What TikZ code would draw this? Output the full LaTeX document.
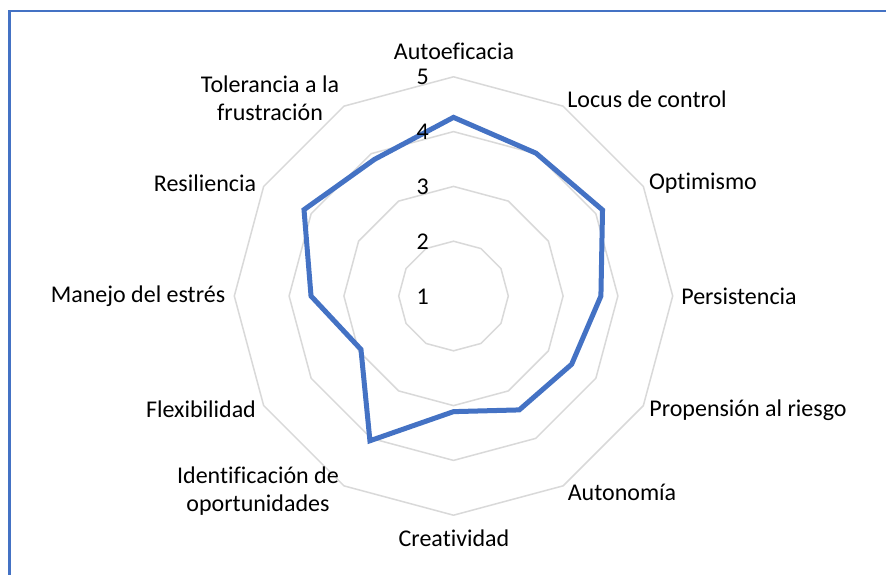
\documentclass[tikz,border=0pt]{standalone}
\usepackage{fontspec}
\setmainfont{Carlito}[Ligatures=NoCommon]
\definecolor{gridgray}{HTML}{D9D9D9}
\definecolor{serblue}{HTML}{4472C4}
\begin{document}
\begin{tikzpicture}[x=1pt,y=-1pt,
  gridring/.style={draw=gridgray, line width=1.5pt, line join=miter},
  series/.style={draw=serblue, line width=5pt, line join=miter},
  frameline/.style={draw=serblue, line width=2.2pt},
  axlabel/.style={font=\fontsize{24}{28}\selectfont, inner sep=0pt, align=center},
  ticklabel/.style={font=\fontsize{24}{28}\selectfont, inner sep=0pt, anchor=east}]
\path[use as bounding box, fill=white] (0,0) rectangle (886,574);
% frame
\coordinate (fbl) at (9.5,576);
\coordinate (ftl) at (9.5,11);
\coordinate (ftr) at (888,11);
\draw[frameline] (fbl) -- (ftl) -- (ftr);
\begin{scope}[shift={(453.5,296)}]
  \foreach \v in {2,...,5}{
    \pgfmathsetmacro{\rr}{(\v-1)*54.8}
    \draw[gridring] (-90:\rr) \foreach \k in {1,...,11}{ -- (30*\k-90:\rr)} -- cycle;
  }
  \foreach \k/\v in {0/4.26,1/4.01,2/4.14,3/3.69,4/3.49,5/3.4,6/3.11,7/4.05,8/2.95,9/3.6,10/4.15,11/3.88}{
    \coordinate (p\k) at (30*\k-90:{(\v-1)*54.8});
  }
  \draw[series] (p0) -- (p1) -- (p2) -- (p3) -- (p4) -- (p5) -- (p6) -- (p7) -- (p8) -- (p9) -- (p10) -- (p11) -- cycle;
\end{scope}
% tick labels
\node[ticklabel] (t1) at (429,297) {1};
\node[ticklabel] (t2) at (429,242) {2};
\node[ticklabel] (t3) at (429,187) {3};
\node[ticklabel] (t4) at (429,132) {4};
\node[ticklabel] (t5) at (429,77) {5};
% axis labels
\node[axlabel] (l0) at (454,51) {Autoeficacia};
\node[axlabel] (l1) at (647,99) {Locus de control};
\node[axlabel] (l2) at (703,183) {Optimismo};
\node[axlabel] (l3) at (739,296) {Persistencia};
\node[axlabel] (l4) at (748,410) {Propensión al riesgo};
\node[axlabel] (l5) at (622,492) {Autonomía};
\node[axlabel] (l6) at (454,538) {Creatividad};
\node[axlabel] (l7) at (258,491) {Identificación de\\oportunidades};
\node[axlabel] (l8) at (201,409) {Flexibilidad};
\node[axlabel] (l9) at (138,296) {Manejo del estrés};
\node[axlabel] (l10) at (205,183) {Resiliencia};
\node[axlabel] (l11) at (270,98) {Tolerancia a la\\frustración};
\end{tikzpicture}
\end{document}
